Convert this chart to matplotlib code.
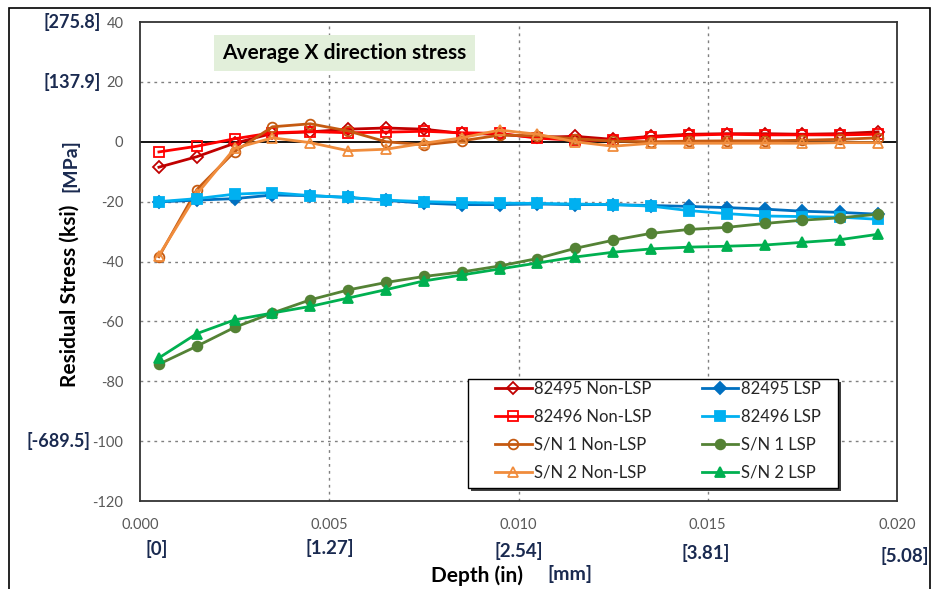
import matplotlib.pyplot as plt
import matplotlib.transforms as mtransforms
from matplotlib.patches import Rectangle

plt.rcParams['font.family'] = ['Lato', 'DejaVu Sans']

# depth in inches
depth = [0.0005, 0.0015, 0.0025, 0.0035, 0.0045, 0.0055, 0.0065, 0.0075, 0.0085, 0.0095,
         0.0105, 0.0115, 0.0125, 0.0135, 0.0145, 0.0155, 0.0165, 0.0175, 0.0185, 0.0195]

# residual stress (ksi)
s82495_non = [-8.5, -5.0, -0.5, 2.8, 3.3, 4.2, 4.6, 4.2, 2.8, 2.5,
              1.5, 1.8, 0.8, 1.8, 2.5, 2.7, 2.7, 2.5, 2.7, 3.3]
s82496_non = [-3.4, -1.5, 1.0, 3.0, 3.4, 3.0, 3.2, 3.5, 3.0, 2.8,
              1.2, 0.5, 0.5, 1.5, 2.2, 2.5, 2.3, 2.3, 2.3, 2.5]
sn1_non = [-38.4, -16.0, -3.3, 5.0, 6.0, 3.6, 0.0, -1.0, 0.3, 2.2,
           2.0, 1.0, 0.2, 0.0, 0.2, 0.3, 0.3, 0.5, 0.8, 1.3]
sn2_non = [-38.0, -17.5, -2.2, 1.3, -0.3, -3.0, -2.5, -0.5, 1.3, 3.9,
           2.5, 0.0, -1.5, -0.5, -0.5, -0.5, -0.5, -0.5, -0.3, -0.3]
s82495_lsp = [-20.1, -19.5, -19.0, -17.8, -18.0, -18.6, -19.6, -20.5, -21.0, -21.0,
              -20.8, -21.0, -21.0, -21.3, -21.6, -22.0, -22.5, -23.2, -23.6, -24.2]
s82496_lsp = [-20.0, -19.0, -17.5, -17.0, -18.0, -18.6, -19.5, -20.0, -20.3, -20.5,
              -20.6, -20.8, -21.0, -21.5, -23.0, -24.0, -24.8, -25.0, -25.2, -25.9]
sn1_lsp = [-74.3, -68.3, -62.0, -57.2, -52.8, -49.5, -47.0, -45.0, -43.5, -41.5,
           -39.0, -35.6, -32.9, -30.6, -29.3, -28.6, -27.3, -26.2, -25.4, -24.2]
sn2_lsp = [-72.2, -64.1, -59.5, -57.2, -55.0, -52.2, -49.4, -46.5, -44.5, -42.5,
           -40.5, -38.5, -36.9, -35.8, -35.2, -34.9, -34.5, -33.6, -32.7, -30.9]

xticks = [0.0, 0.005, 0.010, 0.015, 0.020]
xtick_labels = ["0.000", "0.005", "0.010", "0.015", "0.020"]
mm_labels = ["[0]", "[1.27]", "[2.54]", "[3.81]", "[5.08]"]
yticks = [40, 20, 0, -20, -40, -60, -80, -100, -120]
mpa_ticks = [40, 20, -100]
mpa_labels = ["[275.8]", "[137.9]", "[-689.5]"]

W, H = 933, 589
fig = plt.figure(figsize=(W/100, H/100), dpi=100)
ax = fig.add_axes([140/W, 1-501/H, 757/W, 479/H])

navy = '#1a2a50'

# (label, data, color, marker, filled)
series = [
    ("82495 Non-LSP", s82495_non, '#C00000', 'D', False),
    ("82496 Non-LSP", s82496_non, '#FF0000', 's', False),
    ("S/N 1 Non-LSP", sn1_non, '#C55A11', 'o', False),
    ("S/N 2 Non-LSP", sn2_non, '#F08C3C', '^', False),
    ("82495 LSP", s82495_lsp, '#0070C0', 'D', True),
    ("82496 LSP", s82496_lsp, '#00B0F0', 's', True),
    ("S/N 1 LSP", sn1_lsp, '#548235', 'o', True),
    ("S/N 2 LSP", sn2_lsp, '#00B050', '^', True),
]

for label, vals, col, mk, filled in series:
    ms = 7 if mk != 'D' else 6
    ax.plot(depth, vals, color=col, lw=2.0, marker=mk, ms=ms,
            markerfacecolor=col if filled else 'none',
            markeredgecolor=col, markeredgewidth=1.3, label=label, zorder=3)

ax.axhline(0, color='black', lw=1.3, zorder=2)

ax.set_xlim(0, 0.02)
ax.set_ylim(-120, 40)
ax.set_xticks(xticks)
ax.set_xticklabels(xtick_labels)
ax.set_yticks(yticks)
ax.set_yticklabels([str(v) for v in yticks])
ax.tick_params(length=0, labelsize=10.5, labelcolor='#595959')
ax.tick_params(axis='y', pad=12)
ax.tick_params(axis='x', pad=12)

for v in [20, -20, -40, -60, -80, -100]:
    ax.axhline(v, color='#808080', lw=1, ls=(0, (2, 3)), zorder=1)
for v in [0.005, 0.010, 0.015]:
    ax.axvline(v, color='#808080', lw=1, ls=(0, (2, 3)), zorder=1)

for sp in ax.spines.values():
    sp.set_color('#333333')
    sp.set_linewidth(1.3)

# MPa labels on the y axis
tr = mtransforms.blended_transform_factory(fig.transFigure, ax.transData)
for v, lab in zip(mpa_ticks, mpa_labels):
    xr = 101/W if v > 0 else 90/W
    fig.text(xr, v, lab, transform=tr, ha='right', va='center',
             fontsize=13, fontweight='bold', color=navy)

# mm labels under the x axis
mm_y = [549, 548, 551, 553, 556]
mm_x = [157, 330, 519, 706, 905]
for xp, yp, lab in zip(mm_x, mm_y, mm_labels):
    fig.text(xp/W, 1-yp/H, lab, ha='center', va='center',
             fontsize=13.5, fontweight='bold', color=navy)

# axis titles
fig.text(70/W, 1-296/H, "Residual Stress (ksi)", rotation=90, ha='center', va='center',
         fontsize=15, fontweight='bold', color='black')
fig.text(70/W, 1-166/H, "[MPa]", rotation=90, ha='center', va='center',
         fontsize=14, fontweight='bold', color=navy)
fig.text(477/W, 1-576/H, "Depth (in)", ha='center', va='center',
         fontsize=15, fontweight='bold', color='black')
fig.text(570/W, 1-574/H, "[mm]", ha='center', va='center',
         fontsize=14, fontweight='bold', color=navy)

# chart title box
ax.text(0.27, 0.935, "Average X direction stress", transform=ax.transAxes,
        ha='center', va='center', fontsize=15, fontweight='bold', color='black',
        bbox=dict(boxstyle='square,pad=0.4', facecolor='#E2EFDA', edgecolor='none'))

# legend box with shadow (pixel positions converted to axes fraction)
def ax_xy(px, py):
    return (px - 140) / 757, (501 - py) / 479

bx0, by1 = ax_xy(468, 379)
bx1, by0 = ax_xy(838, 488)
sx, sy = 3 / 757, 3 / 479
ax.add_patch(Rectangle((bx0 + sx, by0 - sy), bx1 - bx0, by1 - by0, transform=ax.transAxes,
                       facecolor='#404040', edgecolor='none', zorder=4))
ax.add_patch(Rectangle((bx0, by0), bx1 - bx0, by1 - by0, transform=ax.transAxes,
                       facecolor='white', edgecolor='black', lw=1.0, zorder=4.5))

lx, ly = ax_xy(495, 381)
leg = ax.legend(ncol=2, loc='upper left', bbox_to_anchor=(lx, ly),
                fontsize=12, frameon=False, handlelength=2.2, labelspacing=0.72,
                handletextpad=0.15, borderpad=0, borderaxespad=0, columnspacing=3.0)
leg.set_zorder(5)
for t in leg.get_texts():
    t.set_color('#262626')

# outer frame of the picture
fig.patches.append(Rectangle((9/W, -0.01), 921/W, 1-8/H + 0.01,
                             transform=fig.transFigure, fill=False,
                             edgecolor='black', lw=1.2))

fig.savefig('out.png', dpi=100)
